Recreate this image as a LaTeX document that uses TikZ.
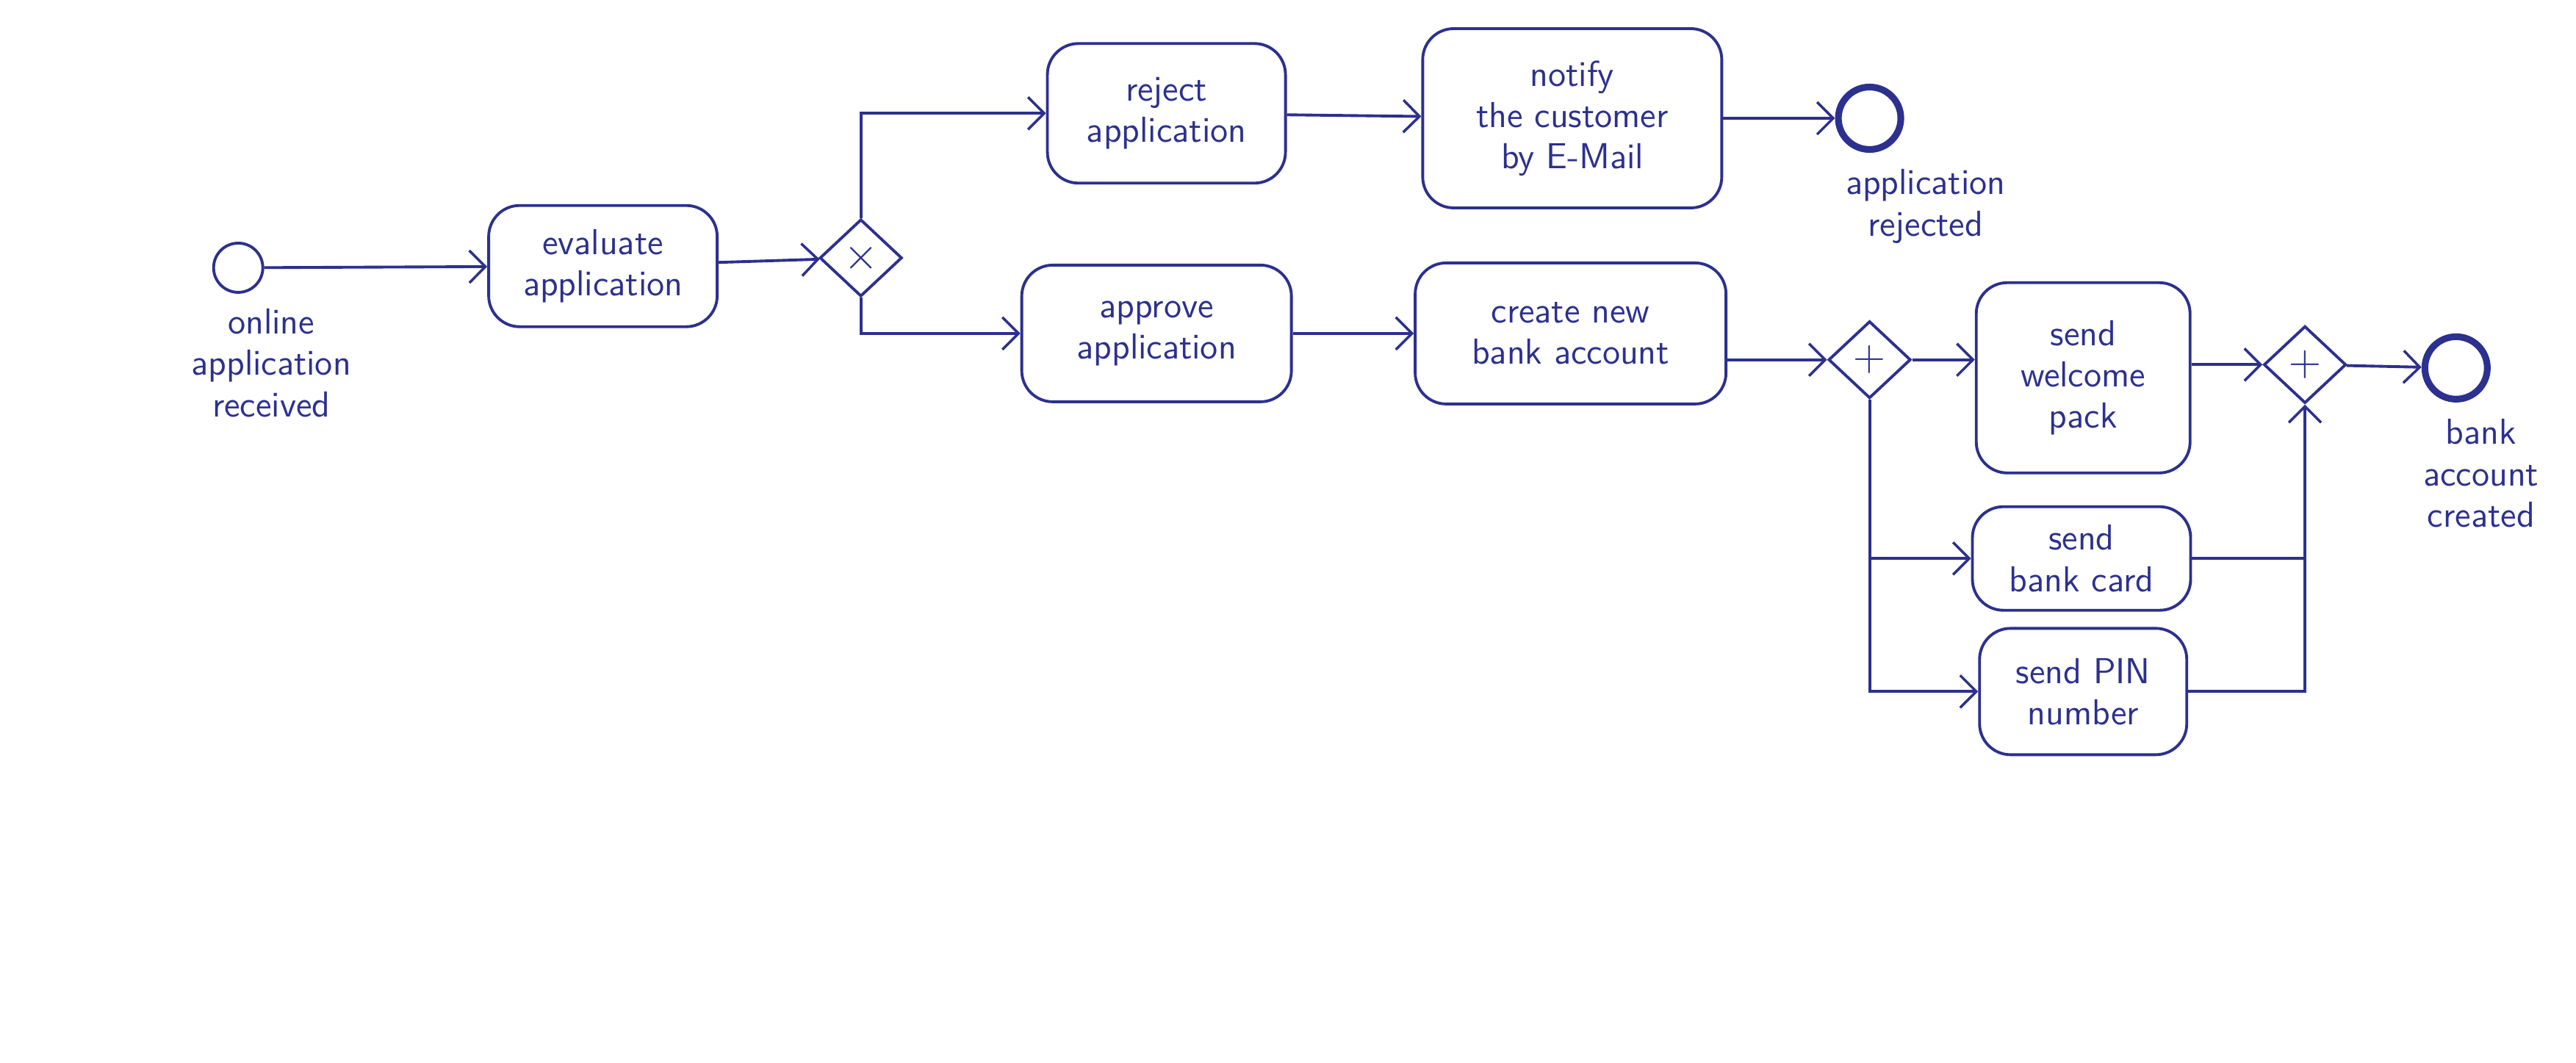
\documentclass[tikz,border=0pt]{standalone}
\usetikzlibrary{shapes.geometric,positioning,arrows.meta}
\definecolor{ink}{RGB}{44,48,142}
\tikzset{
  task/.style={draw=ink, rounded corners=12pt, align=center, inner sep=2pt, line width=1.1pt},
  gate/.style={draw=ink, diamond, minimum width=11.2mm, minimum height=10.5mm, inner sep=0pt, line width=1.1pt,
    font=\fontsize{18}{18}\selectfont},
  startev/.style={draw=ink, circle, minimum size=6.7mm, inner sep=0pt, line width=1.1pt},
  endev/.style={draw=ink, circle, minimum size=8.5mm, inner sep=0pt, line width=2.6pt},
  evlabel/.style={align=center, inner sep=0pt},
  seq/.style={line width=1.1pt},
  flow/.style={seq, -{Straight Barb[length=2.2mm, width=4.4mm, line width=1pt]}}
}
\begin{document}
\begin{tikzpicture}[x=0.2236mm, y=-0.2236mm, color=ink,
    font=\sffamily\fontsize{14}{16}\selectfont]
  \useasboundingbox (0,0) rectangle (1568,647);

  % start event
  \node[startev] (start) at (145,163) {};
  \node[evlabel, below=2mm of start, xshift=4.5mm] (startlbl) {online\\application\\received};

  % evaluate
  \node[task, minimum width=31.1mm, minimum height=16.5mm] (evalapp) at (367,162) {evaluate\\application};
  \node[gate] (gwsplit) at (524,157) {$\times$};

  % reject branch
  \node[task, minimum width=32.4mm, minimum height=19mm] (reject) at (710,69) {reject\\application};
  \node[task, minimum width=40.7mm, minimum height=24.4mm] (notify) at (957,72) {notify\\the customer\\by E-Mail};
  \node[endev] (endrej) at (1138,72) {};
  \node[evlabel, below=2.2mm of endrej, xshift=7.6mm] (endrejlbl) {application\\rejected};

  % approve branch
  \node[task, minimum width=36.7mm, minimum height=18.6mm] (approve) at (704,203) {approve\\application};
  \node[task, minimum width=42.3mm, minimum height=19.2mm] (create) at (956,203) {create new\\bank account};
  \node[gate] (gwand) at (1138,219) {$+$};

  % parallel tasks
  \node[task, minimum width=29.1mm, minimum height=25.9mm] (welcome) at (1268,230) {send\\welcome\\pack};
  \node[task, minimum width=29.7mm, minimum height=14.1mm] (card) at (1267,340) {send\\bank card};
  \node[task, minimum width=28.2mm, minimum height=17.2mm] (pin) at (1268,421) {send PIN\\number};
  \node[gate] (gwjoin) at (1403,222) {$+$};
  \node[endev] (endok) at (1495,224) {};
  \node[evlabel, below=2.2mm of endok, xshift=3.4mm] (endoklbl) {bank\\account\\created};

  % flows
  \draw[flow] (start) -- (evalapp);
  \draw[flow] (evalapp) -- (gwsplit);
  \draw[flow] (gwsplit.north) |- (reject);
  \draw[flow] (gwsplit.south) |- (approve);
  \draw[flow] (reject) -- (notify);
  \draw[flow] (notify) -- (endrej);
  \draw[flow] (approve) -- (create);
  \draw[flow] (create.east |- gwand) -- (gwand);
  \draw[flow] (gwand.east) -- (gwand -| welcome.west);
  \draw[flow] (gwand.south) |- (card);
  \draw[flow] (gwand.south) |- (pin);
  \draw[flow] (welcome.east |- gwjoin) -- (gwjoin);
  \draw[seq] (card.east) -- (card.east -| gwjoin);
  \draw[flow] (pin.east) -| (gwjoin.south);
  \draw[flow] (gwjoin) -- (endok);
\end{tikzpicture}
\end{document}
